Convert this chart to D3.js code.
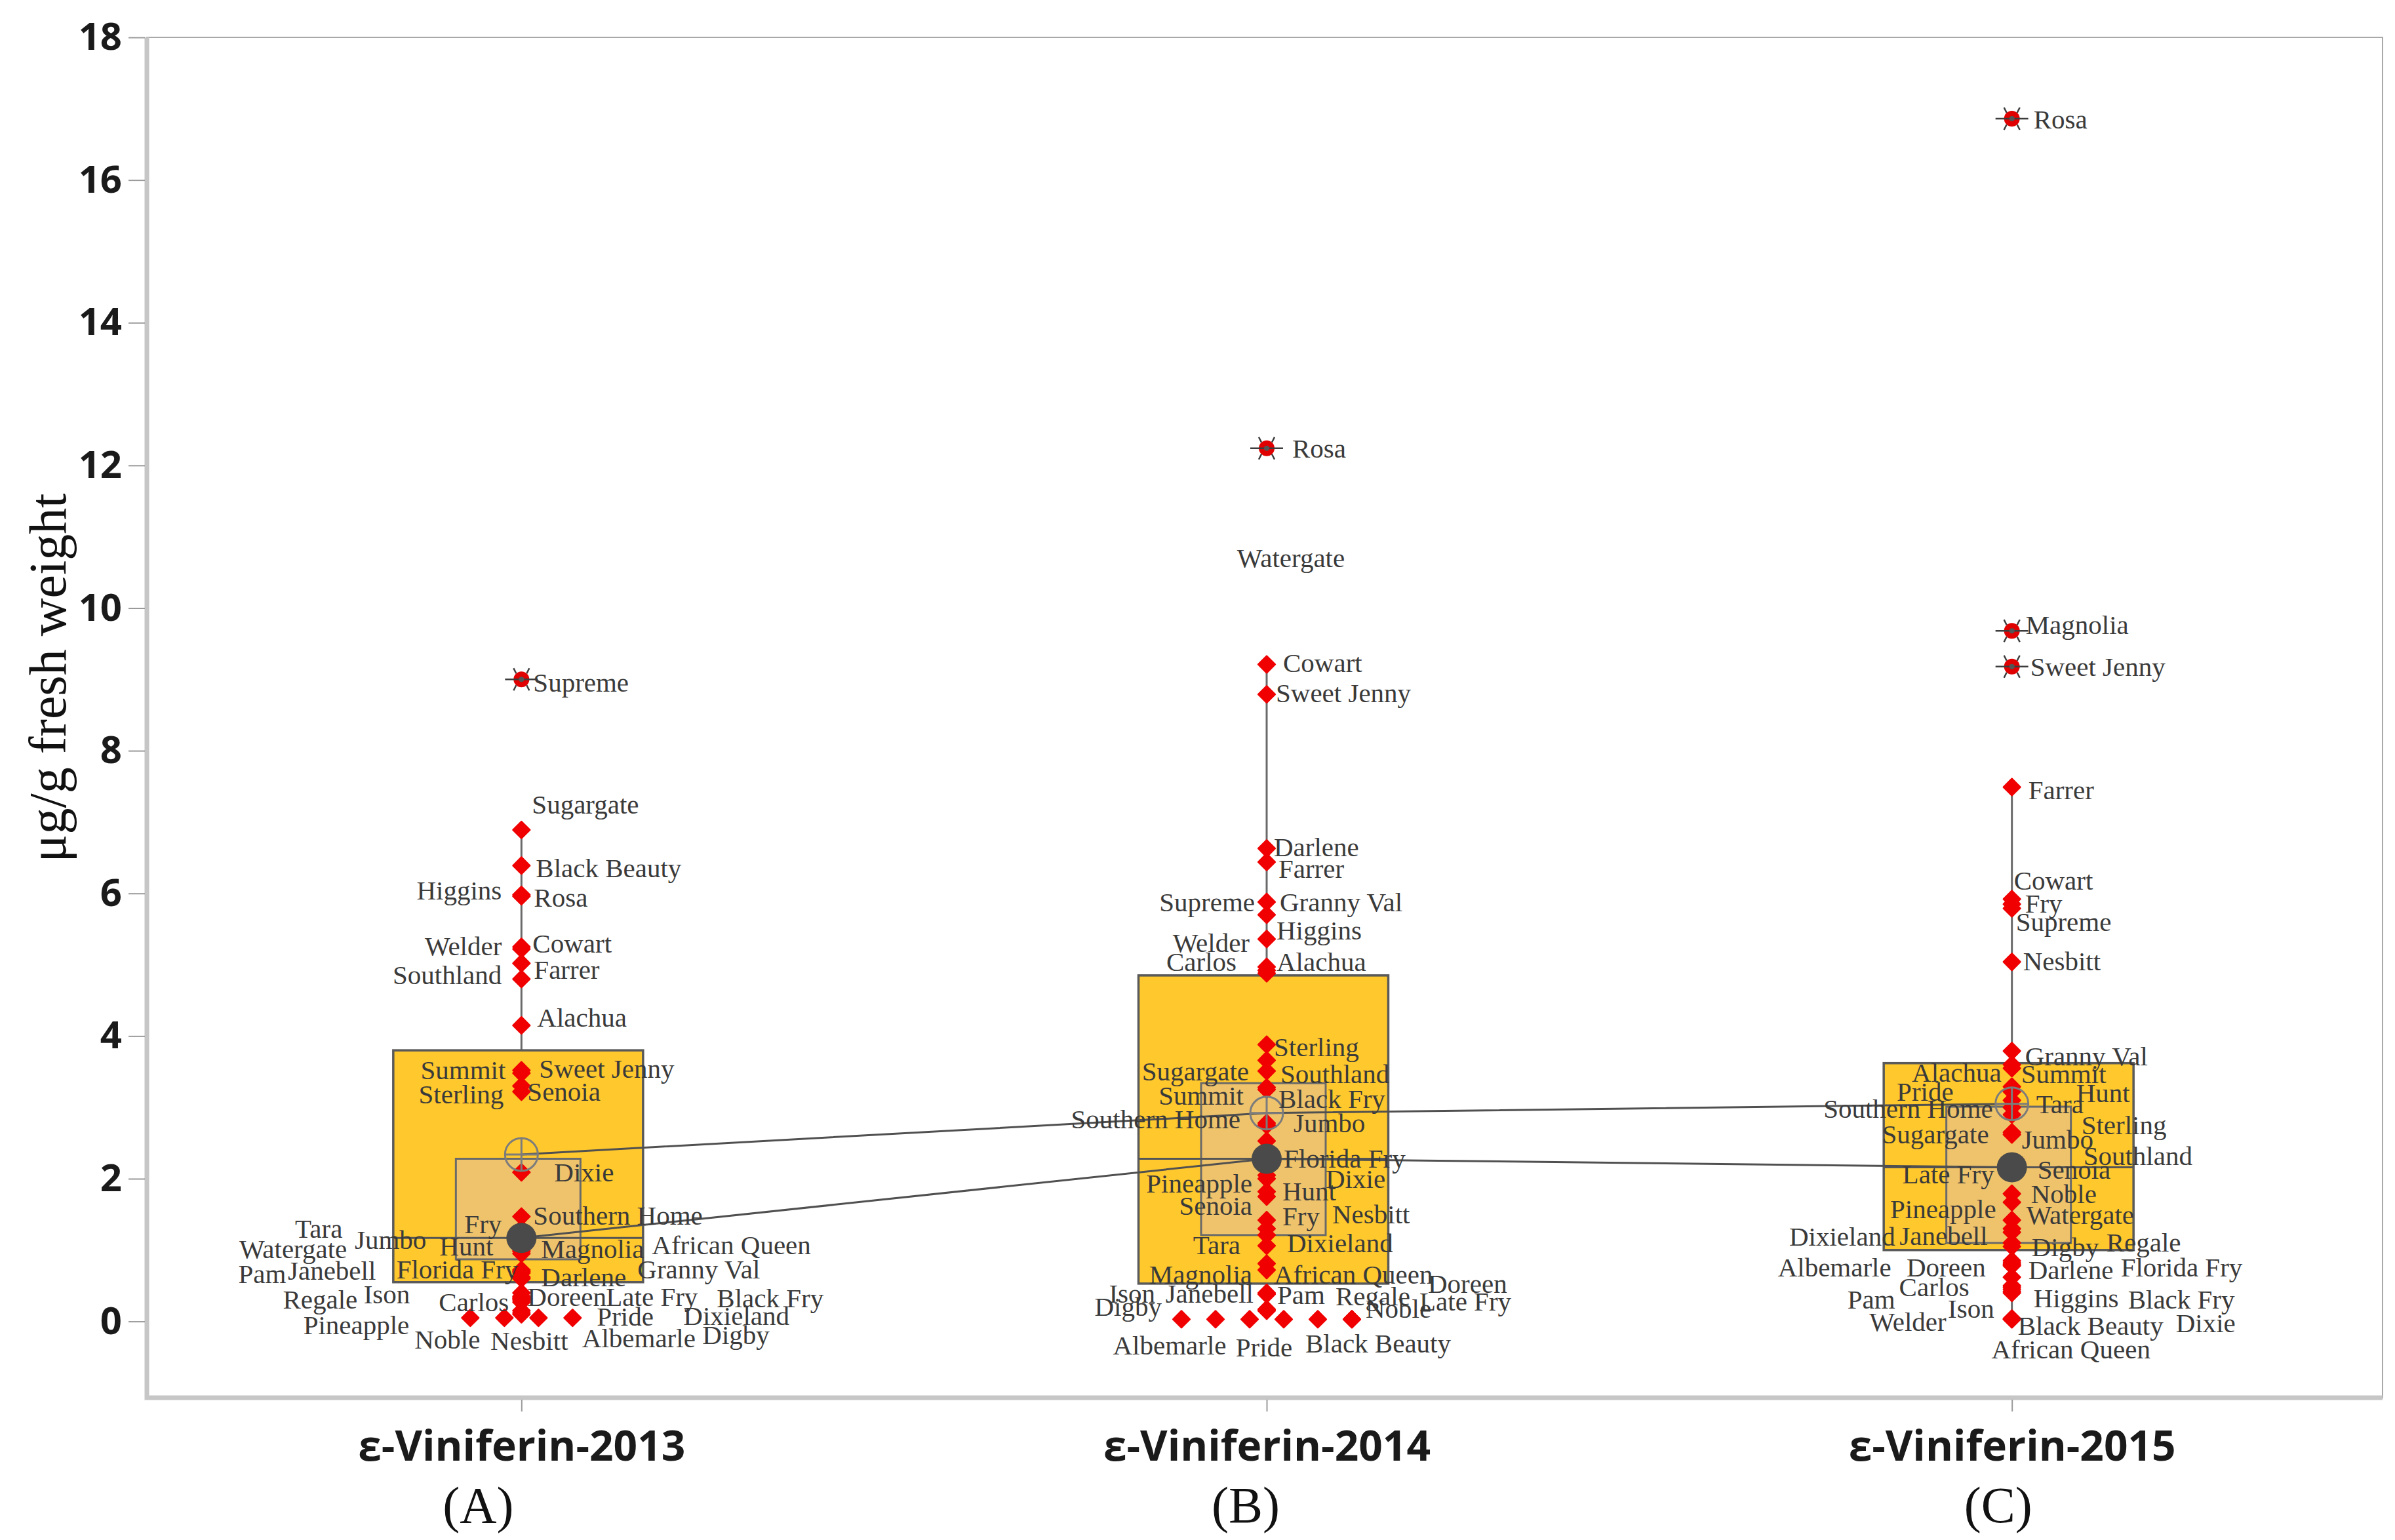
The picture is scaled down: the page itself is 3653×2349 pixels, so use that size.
<!DOCTYPE html>
<html>
<head>
<meta charset="utf-8">
<script src="https://cdn.jsdelivr.net/npm/d3@7"></script>
<style>
  body { margin: 0; background: #fff; }
  .lbl { font-family: "Liberation Serif", "Times New Roman", serif; font-size: 41px; fill: #3a3a3a; }
</style>
</head>
<body>
<div class="canvas"></div>
<script>
// categories and summary values
const categories = ["ε-Viniferin-2013", "ε-Viniferin-2014", "ε-Viniferin-2015"];
const panelLetters = ["(A)", "(B)", "(C)"];
const yTicks = [0, 2, 4, 6, 8, 10, 12, 14, 16, 18];

const q1 = [0.55, 0.53, 1.0];
const q3 = [3.8, 4.85, 3.62];
const ciLow = [0.87, 1.21, 1.1];
const ciHigh = [2.28, 3.34, 3.01];
const means = [2.34, 2.92, 3.05];
const medians = [1.17, 2.28, 2.16];
const whiskerLow = [0.05, 0.03, 0.03];
const whiskerHigh = [6.89, 9.21, 7.49];

// cultivar values, µg/g fresh weight
const points2013 = [
  ["Supreme", 9.0], ["Sugargate", 6.89], ["Black Beauty", 6.39], ["Higgins", 5.98], ["Rosa", 5.96],
  ["Cowart", 5.25], ["Welder", 5.22], ["Farrer", 5.02], ["Southland", 4.8], ["Alachua", 4.15],
  ["Sweet Jenny", 3.52], ["Summit", 3.48], ["Senoia", 3.3], ["Sterling", 3.22], ["Dixie", 2.09],
  ["Southern Home", 1.47], ["Fry", 1.3], ["Jumbo", 1.12], ["Hunt", 1.05], ["Magnolia", 1.03],
  ["African Queen", 1.0], ["Tara", 0.98], ["Watergate", 0.95], ["Florida Fry", 0.72], ["Janebell", 0.7],
  ["Granny Val", 0.68], ["Darlene", 0.62], ["Pam", 0.6], ["Ison", 0.4], ["Doreen", 0.35],
  ["Late Fry", 0.33], ["Black Fry", 0.32], ["Regale", 0.3], ["Carlos", 0.27], ["Pineapple", 0.15],
  ["Dixieland", 0.12], ["Digby", 0.1], ["Noble", 0.05], ["Nesbitt", 0.05], ["Albemarle", 0.05],
  ["Pride", 0.05]
];
const points2014 = [
  ["Rosa", 12.24], ["Watergate", 10.71], ["Cowart", 9.21], ["Sweet Jenny", 8.79], ["Darlene", 6.63],
  ["Farrer", 6.44], ["Supreme", 5.88], ["Granny Val", 5.7], ["Higgins", 5.36], ["Welder", 4.97],
  ["Carlos", 4.92], ["Alachua", 4.88], ["Sterling", 3.88], ["Sugargate", 3.66], ["Southland", 3.51],
  ["Black Fry", 3.28], ["Summit", 3.25], ["Jumbo", 2.78], ["Southern Home", 2.75], ["Florida Fry", 2.53],
  ["Pineapple", 2.05], ["Dixie", 2.0], ["Hunt", 1.82], ["Senoia", 1.75], ["Fry", 1.42],
  ["Nesbitt", 1.3], ["Tara", 1.21], ["Dixieland", 1.06], ["African Queen", 0.81], ["Magnolia", 0.72],
  ["Pam", 0.4], ["Janebell", 0.38], ["Pride", 0.17], ["Ison", 0.15], ["Albemarle", 0.03],
  ["Digby", 0.03], ["Doreen", 0.03], ["Regale", 0.03], ["Black Beauty", 0.03], ["Noble", 0.03],
  ["Late Fry", 0.03]
];
const points2015 = [
  ["Rosa", 16.86], ["Magnolia", 9.68], ["Sweet Jenny", 9.18], ["Farrer", 7.49], ["Cowart", 5.92],
  ["Fry", 5.85], ["Supreme", 5.79], ["Nesbitt", 5.04], ["Granny Val", 3.79], ["Summit", 3.6],
  ["Alachua", 3.55], ["Hunt", 3.29], ["Pride", 3.22], ["Tara", 3.1], ["Southern Home", 3.0],
  ["Sterling", 2.9], ["Sugargate", 2.65], ["Jumbo", 2.62], ["Southland", 2.2], ["Senoia", 2.12],
  ["Late Fry", 2.1], ["Noble", 1.79], ["Pineapple", 1.67], ["Watergate", 1.42], ["Janebell", 1.3],
  ["Dixieland", 1.25], ["Digby", 1.1], ["Regale", 1.05], ["Darlene", 0.85], ["Florida Fry", 0.82],
  ["Albemarle", 0.8], ["Doreen", 0.78], ["Carlos", 0.62], ["Higgins", 0.5], ["Black Fry", 0.48],
  ["Pam", 0.45], ["Ison", 0.42], ["Welder", 0.4], ["Black Beauty", 0.04], ["Dixie", 0.03],
  ["African Queen", 0.03]
];

const outliers2013 = ["Supreme"];
const outliers2014 = ["Rosa"];
const outliers2015 = ["Rosa", "Magnolia", "Sweet Jenny"];
const labelOnly2014 = ["Watergate"];

// tied values spread sideways (slot index)
const tieSlots2013 = { Noble: -1.5, Nesbitt: -0.5, Albemarle: 0.5, Pride: 1.5 };
const tieSlots2014 = { Albemarle: -2.5, Digby: -1.5, Doreen: -0.5, Regale: 0.5, "Black Beauty": 1.5, Noble: 2.5, "Late Fry": 2.5 };
const tieSlots2015 = {};

// label placement: anchor, dx, dy (px from the marker)
const labels2013 = {
  Supreme: ["s", 18, 4], Sugargate: ["s", 16, -39], "Black Beauty": ["s", 22, 3], Rosa: ["s", 19, 2],
  Higgins: ["e", -30, -7], Cowart: ["s", 17, -6], Welder: ["e", -30, -5], Farrer: ["s", 19, 9],
  Southland: ["e", -30, -7], Alachua: ["s", 24, -12], "Sweet Jenny": ["s", 27, -3], Summit: ["e", -24, -5],
  Senoia: ["s", 9, 8], Sterling: ["e", -27, 3], Dixie: ["s", 50, -1], "Southern Home": ["s", 18, -2],
  Fry: ["e", -30, -7], Jumbo: ["e", -145, -3], Hunt: ["e", -43, -1], Magnolia: ["s", 30, 1],
  "African Queen": ["s", 199, -8], Tara: ["e", -273, -35], Watergate: ["e", -266, -8],
  "Florida Fry": ["e", -5, -2], Janebell: ["e", -222, -2], "Granny Val": ["s", 177, -6],
  Darlene: ["s", 30, 0], Pam: ["e", -359, -8], Ison: ["e", -170, 2], Doreen: ["s", 9, 0],
  "Late Fry": ["s", 129, -2], "Black Fry": ["s", 298, -1], Regale: ["e", -250, -1], Carlos: ["e", -19, -1],
  Pineapple: ["e", -171, 21], Dixieland: ["s", 247, 4], Digby: ["s", 276, 31], Noble: ["m", -35, 33],
  Nesbitt: ["m", 38, 35], Albemarle: ["m", 153, 31], Pride: ["s", 37, -2]
};
const labels2014 = {
  Rosa: ["s", 39, 0], Watergate: ["m", 37, 0], Cowart: ["s", 25, -3], "Sweet Jenny": ["s", 14, -2],
  Darlene: ["s", 11, -3], Farrer: ["s", 18, 10], Supreme: ["e", -18, 0], "Granny Val": ["s", 20, -20],
  Higgins: ["s", 15, -14], Welder: ["e", -26, -37], Carlos: ["e", -46, -14], Alachua: ["s", 15, -18],
  Sterling: ["s", 11, 3], Sugargate: ["e", -27, 16], Southland: ["s", 21, 4], "Black Fry": ["s", 18, 17],
  Summit: ["e", -35, 9], Jumbo: ["s", 41, 0], "Southern Home": ["e", -40, -10], "Florida Fry": ["s", 26, 26],
  Pineapple: ["e", -22, 12], Dixie: ["s", 90, 0], Hunt: ["s", 24, -1], Senoia: ["e", -22, 13],
  Fry: ["s", 24, -6], Nesbitt: ["s", 100, -22], Tara: ["e", -40, 15], Dixieland: ["s", 31, -5],
  "African Queen": ["s", 11, 16], Magnolia: ["e", -22, 6], Pam: ["s", 16, 3], Janebell: ["e", -20, -2],
  Pride: ["m", -4, 58], Ison: ["e", -170, -27], Albemarle: ["m", -18, 39], Digby: ["e", -82, -20],
  Doreen: ["s", 272, -55], Regale: ["s", 79, -36], "Black Beauty": ["m", 92, 36], Noble: ["s", 21, -17],
  "Late Fry": ["s", 103, -28]
};
const labels2015 = {
  Rosa: ["s", 33, 1], Magnolia: ["s", 21, -10], "Sweet Jenny": ["s", 28, 0], Farrer: ["s", 25, 4],
  Cowart: ["s", 3, -29], Fry: ["s", 20, -1], Supreme: ["s", 6, 20], Nesbitt: ["s", 17, -2],
  "Granny Val": ["s", 20, 7], Summit: ["s", 14, 14], Alachua: ["e", -16, 6], Hunt: ["s", 98, 9],
  Pride: ["e", -89, -1], Tara: ["s", 37, 5], "Southern Home": ["e", -29, 2], Sterling: ["s", 106, 16],
  Sugargate: ["e", -35, 2], Jumbo: ["s", 15, 7], Southland: ["s", 109, -14], Senoia: ["s", 39, -1],
  "Late Fry": ["e", -27, 4], Noble: ["s", 29, 0], Pineapple: ["e", -24, 10], Watergate: ["s", 22, -8],
  Janebell: ["e", -37, 11], Dixieland: ["e", -178, 6], Digby: ["s", 30, 6], Regale: ["s", 144, -7],
  Darlene: ["s", 25, 14], "Florida Fry": ["s", 166, 6], Albemarle: ["e", -184, 4], Doreen: ["e", -40, 2],
  Carlos: ["e", -65, 15], Higgins: ["s", 33, 18], "Black Fry": ["s", 177, 18], Pam: ["e", -178, 15],
  Ison: ["e", -27, 26], Welder: ["e", -100, 44], "Black Beauty": ["s", 9, 10], Dixie: ["s", 250, 5],
  "African Queen": ["m", 90, 45]
};
const letterShift = [-66, -32, -21];

const dims = { width: 3653, height: 2349 };
const frame = { left: 224, right: 3634, top: 57, bottom: 2132 };

const svg = d3
  .select(".canvas")
  .append("svg")
  .attr("width", dims.width)
  .attr("height", dims.height);

const x = d3
  .scalePoint()
  .domain(categories)
  .range([frame.left + 3, frame.right + 3])
  .padding(0.5);

const y = d3.scaleLinear().domain([-1.07, 18]).range([frame.bottom, frame.top]);

const boxW = 381;
const innerW = 190;
const tieGap = 52;

// frame
svg
  .append("rect")
  .attr("x", frame.left)
  .attr("y", frame.top)
  .attr("width", frame.right - frame.left)
  .attr("height", frame.bottom - frame.top)
  .attr("fill", "none")
  .attr("stroke", "#a8a8a8")
  .attr("stroke-width", 2);

svg
  .append("path")
  .attr("d", `M${frame.left},${frame.top} V${frame.bottom} H${frame.right}`)
  .attr("fill", "none")
  .attr("stroke", "#c6c6c6")
  .attr("stroke-width", 7);

// axes
const yAxis = svg
  .append("g")
  .attr("transform", `translate(${frame.left - 3},0)`)
  .call(d3.axisLeft(y).tickValues(yTicks).tickSize(25).tickPadding(10));
yAxis.select(".domain").remove();
yAxis.selectAll("line").attr("stroke", "#9a9a9a").attr("stroke-width", 2);
yAxis
  .selectAll("text")
  .attr("fill", "#1a1a1a")
  .style("font-family", "'Open Sans', 'DejaVu Sans', sans-serif")
  .style("font-weight", 700)
  .style("font-size", "58px");

const xAxis = svg
  .append("g")
  .attr("transform", `translate(0,${frame.bottom + 3})`)
  .call(d3.axisBottom(x).tickSize(18).tickPadding(30));
xAxis.select(".domain").remove();
xAxis.selectAll("line").attr("stroke", "#9a9a9a").attr("stroke-width", 2);
xAxis
  .selectAll("text")
  .attr("fill", "#1a1a1a")
  .style("font-family", "'Open Sans', 'DejaVu Sans', sans-serif")
  .style("font-weight", 700)
  .style("font-size", "64px");

svg
  .append("g")
  .selectAll("text")
  .data(panelLetters)
  .enter()
  .append("text")
  .attr("x", (d, i) => x(categories[i]) + letterShift[i])
  .attr("y", 2322)
  .attr("text-anchor", "middle")
  .attr("fill", "#111")
  .style("font-family", "'Liberation Serif', serif")
  .style("font-size", "78px")
  .text((d) => d);

svg
  .append("text")
  .attr("transform", "translate(100,1034) rotate(-90)")
  .attr("text-anchor", "middle")
  .attr("fill", "#111")
  .style("font-family", "'Liberation Serif', serif")
  .style("font-size", "80px")
  .text("μg/g fresh weight");

// group records
const groups = [
  { pts: points2013, out: outliers2013, hide: [], slots: tieSlots2013, lab: labels2013 },
  { pts: points2014, out: outliers2014, hide: labelOnly2014, slots: tieSlots2014, lab: labels2014 },
  { pts: points2015, out: outliers2015, hide: [], slots: tieSlots2015, lab: labels2015 }
].map((g, i) => {
  const cx = x(categories[i]);
  g.cx = cx;
  g.items = g.pts.map(([name, v]) => ({
    name,
    v,
    px: cx + (g.slots[name] || 0) * tieGap,
    py: y(v),
    outlier: g.out.includes(name),
    hidden: g.hide.includes(name)
  }));
  return g;
});

const plot = svg.append("g");

// whiskers
groups.forEach((g, i) => {
  plot
    .append("line")
    .attr("x1", g.cx).attr("x2", g.cx)
    .attr("y1", y(whiskerLow[i])).attr("y2", y(whiskerHigh[i]))
    .attr("stroke", "#6a6a6a")
    .attr("stroke-width", 3);
});

// quantile boxes
plot
  .selectAll("rect.outer")
  .data(categories)
  .enter()
  .append("rect")
  .attr("class", "outer")
  .attr("x", (d) => x(d) - boxW / 2 - 5)
  .attr("width", boxW)
  .attr("y", (d, i) => y(q3[i]))
  .attr("height", (d, i) => y(q1[i]) - y(q3[i]))
  .attr("fill", "#ffc82c")
  .attr("stroke", "#5a5a5a")
  .attr("stroke-width", 3.5);

plot
  .selectAll("rect.inner")
  .data(categories)
  .enter()
  .append("rect")
  .attr("class", "inner")
  .attr("x", (d) => x(d) - innerW / 2 - 5)
  .attr("width", innerW)
  .attr("y", (d, i) => y(ciHigh[i]))
  .attr("height", (d, i) => y(ciLow[i]) - y(ciHigh[i]))
  .attr("fill", "#efc36c")
  .attr("stroke", "#6a6a6a")
  .attr("stroke-width", 3);

plot
  .selectAll("line.med")
  .data(categories)
  .enter()
  .append("line")
  .attr("class", "med")
  .attr("x1", (d) => x(d) - boxW / 2 - 5)
  .attr("x2", (d) => x(d) + boxW / 2 - 5)
  .attr("y1", (d, i) => y(medians[i]))
  .attr("y2", (d, i) => y(medians[i]))
  .attr("stroke", "#555")
  .attr("stroke-width", 3);

// connecting lines
const meanLine = d3.line().x((d, i) => x(categories[i])).y((d) => y(d));
[means, medians].forEach((arr) => {
  plot
    .append("path")
    .attr("d", meanLine(arr))
    .attr("fill", "none")
    .attr("stroke", "#505050")
    .attr("stroke-width", 3);
});

// points
const diamond = d3.symbol().type(d3.symbolSquare).size(330);
groups.forEach((g) => {
  plot
    .append("g")
    .selectAll("path")
    .data(g.items.filter((d) => !d.hidden && !d.outlier))
    .enter()
    .append("path")
    .attr("d", diamond)
    .attr("transform", (d) => `translate(${d.px},${d.py}) rotate(45)`)
    .attr("fill", "#f00000")
    .attr("stroke", "#f00000")
    .attr("stroke-width", 2.5)
    .attr("stroke-linejoin", "round");

  const out = plot
    .append("g")
    .selectAll("g")
    .data(g.items.filter((d) => d.outlier))
    .enter()
    .append("g")
    .attr("transform", (d) => `translate(${d.px},${d.py})`);
  out.append("circle").attr("r", 12).attr("fill", "#e00000");
  out
    .append("path")
    .attr("d", "M-25,0H25M-12,-17L-8,-9M12,-17L8,-9M-12,17L-8,9M12,17L8,9")
    .attr("stroke", "#3c3c3c")
    .attr("stroke-width", 2.5)
    .attr("fill", "none");
  out.append("circle").attr("r", 4).attr("fill", "#555");
});

// mean and median symbols
groups.forEach((g, i) => {
  const m = plot.append("g").attr("transform", `translate(${g.cx},${y(means[i])})`);
  m.append("circle").attr("r", 25).attr("fill", "none").attr("stroke", "#7c7c7c").attr("stroke-width", 3);
  m.append("path").attr("d", "M-25,0H25M0,-25V25").attr("stroke", "#7c7c7c").attr("stroke-width", 3);

  plot
    .append("circle")
    .attr("cx", g.cx)
    .attr("cy", y(medians[i]))
    .attr("r", 23)
    .attr("fill", "#4a4a4a");
});

// cultivar labels
const anchors = { s: "start", e: "end", m: "middle" };
groups.forEach((g) => {
  plot
    .append("g")
    .selectAll("text")
    .data(g.items.filter((d) => g.lab[d.name]))
    .enter()
    .append("text")
    .attr("class", "lbl")
    .attr("x", (d) => d.px + g.lab[d.name][1])
    .attr("y", (d) => d.py + g.lab[d.name][2])
    .attr("dy", "0.35em")
    .attr("text-anchor", (d) => anchors[g.lab[d.name][0]])
    .text((d) => d.name);
});
</script>
</body>
</html>
